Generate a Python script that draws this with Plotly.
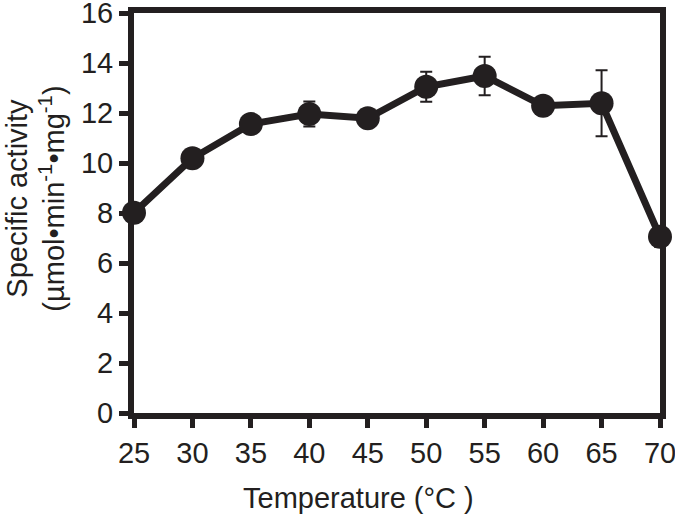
import plotly.graph_objects as go

temperature = [25, 30, 35, 40, 45, 50, 55, 60, 65, 70]
activity = [8.01, 10.19, 11.56, 11.96, 11.79, 13.05, 13.48, 12.29, 12.39, 7.05]
error = [0.2, 0.15, 0.2, 0.5, 0.2, 0.6, 0.77, 0.2, 1.32, 0.4]

x_ticks = [25, 30, 35, 40, 45, 50, 55, 60, 65, 70]
y_ticks = [0, 2, 4, 6, 8, 10, 12, 14, 16]

x_title = "Temperature (°C )"
y_title = "Specific activity<br>(µmol•min<sup>-1</sup>•mg<sup>-1</sup>)"

col = "#231f20"
fig = go.Figure()
fig.add_trace(go.Scatter(
    x=temperature, y=activity,
    mode="lines+markers",
    line=dict(color=col, width=7),
    marker=dict(color=col, size=24),
    error_y=dict(type="data", array=error, visible=True, color=col, thickness=2, width=6),
    cliponaxis=False,
    showlegend=False,
))

font = "Liberation Sans, Arial, Helvetica, sans-serif"
fs = 29
fig.update_layout(
    width=675, height=516,
    margin=dict(l=134, r=15, t=13, b=103),
    paper_bgcolor="white", plot_bgcolor="white",
    font=dict(family=font, color=col, size=fs),
    xaxis=dict(
        range=[25, 70], tickmode="array", tickvals=x_ticks,
        ticks="outside", ticklen=9, tickwidth=5, tickcolor=col,
        showline=True, linewidth=6, linecolor=col, mirror=True,
        showgrid=False, zeroline=False, automargin=False,
        ticklabeloverflow="allow",
        tickfont=dict(size=fs, family=font, color=col),
    ),
    yaxis=dict(
        range=[0, 16], tickmode="array", tickvals=y_ticks,
        ticks="outside", ticklen=9, tickwidth=5, tickcolor=col,
        showline=True, linewidth=6, linecolor=col, mirror=True,
        showgrid=False, zeroline=False, automargin=False,
        ticklabeloverflow="allow",
        tickfont=dict(size=fs, family=font, color=col),
    ),
    annotations=[
        dict(text=x_title, xref="paper", yref="paper", x=0.426, y=-0.212,
             xanchor="center", yanchor="middle", showarrow=False,
             font=dict(size=fs, family=font, color=col)),
        dict(text=y_title, xref="paper", yref="paper", x=-0.187, y=0.535,
             xanchor="center", yanchor="middle", showarrow=False, textangle=-90,
             font=dict(size=fs, family=font, color=col)),
    ],
)
fig.write_html("out.html", config={"displayModeBar": False},
               post_script="document.body.style.margin='0';document.body.style.overflow='hidden';")
